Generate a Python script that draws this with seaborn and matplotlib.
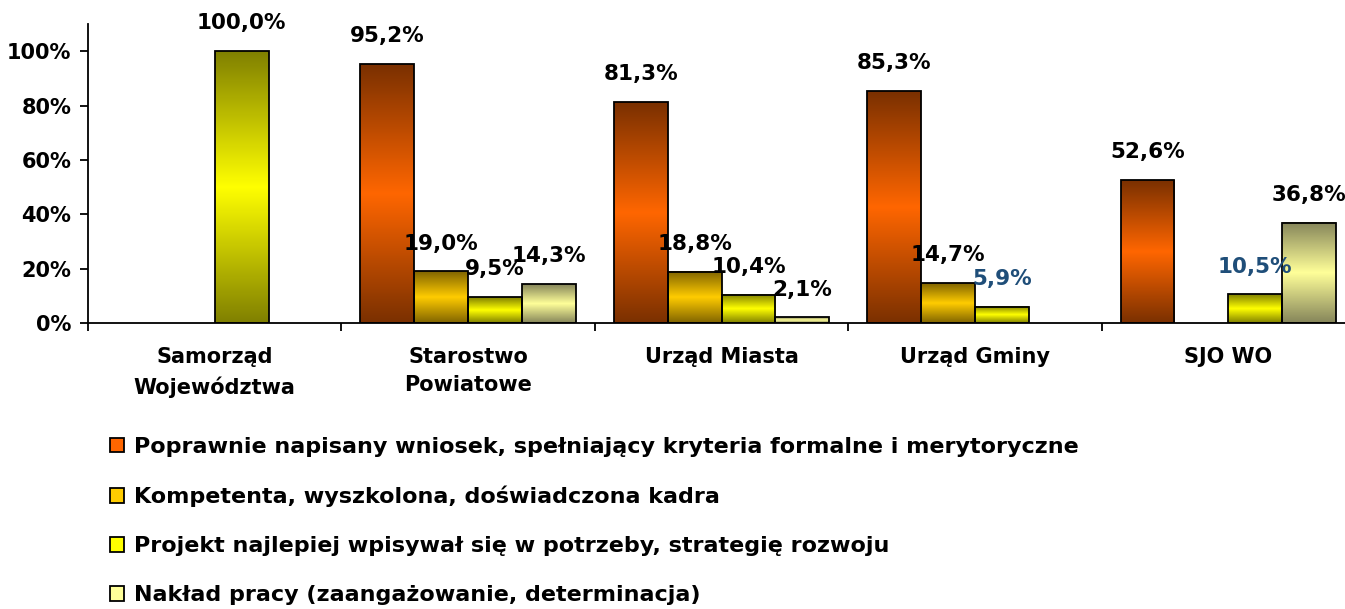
import numpy as np
import pandas as pd
import matplotlib
matplotlib.use("Agg")
import matplotlib.pyplot as plt
import seaborn as sns
from matplotlib.colors import LinearSegmentedColormap, to_rgb
from matplotlib.patches import Patch

# --- data ---
categories = ["Samorząd\nWojewództwa", "Starostwo\nPowiatowe", "Urząd Miasta", "Urząd Gminy", "SJO WO"]
series = [
    "Poprawnie napisany wniosek, spełniający kryteria formalne i merytoryczne",
    "Kompetenta, wyszkolona, doświadczona kadra",
    "Projekt najlepiej wpisywał się w potrzeby, strategię rozwoju",
    "Nakład pracy (zaangażowanie, determinacja)",
]
wniosek = [0.0, 95.2, 81.3, 85.3, 52.6]
kadra = [0.0, 19.0, 18.8, 14.7, 0.0]
projekt = [100.0, 9.5, 10.4, 5.9, 10.5]
naklad = [0.0, 14.3, 2.1, 0.0, 36.8]
yticks = [0, 20, 40, 60, 80, 100]

# (category index, series index) of the labels drawn in blue
blue_labels = {(3, 2), (4, 2)}

bright = ["#FF6600", "#FFCC00", "#FFFF00", "#FFFF99"]
dark = ["#7A3000", "#806400", "#808000", "#85855A"]

df = pd.DataFrame({
    "kategoria": np.repeat(categories, 4),
    "seria": series * len(categories),
    "wartosc": np.array([wniosek, kadra, projekt, naklad]).T.ravel(),
})

sns.set_theme(style="white")
plt.rcParams["font.family"] = ["DejaVu Sans"]
plt.rcParams["font.weight"] = "bold"
plt.rcParams["text.color"] = "black"
plt.rcParams["xtick.color"] = "black"
plt.rcParams["ytick.color"] = "black"

fig = plt.figure(figsize=(13.45, 6.09), dpi=100)
ax = fig.add_axes([88 / 1345, 286 / 609, 1267 / 1345, 299 / 609])

sns.barplot(data=df, x="kategoria", y="wartosc", hue="seria", hue_order=series,
            order=categories, palette=bright, width=0.85, edgecolor="black",
            linewidth=1.3, legend=False, ax=ax)

# vertical gradient (dark - bright - dark) inside each bar
grad = np.linspace(0, 1, 256).reshape(-1, 1)
for s, cont in enumerate(ax.containers):
    cmap = LinearSegmentedColormap.from_list(
        f"g{s}", [to_rgb(dark[s]), to_rgb(bright[s]), to_rgb(dark[s])])
    for c, bar in enumerate(cont):
        h = bar.get_height()
        if h <= 0:
            bar.set_linewidth(0)
            continue
        x, w = bar.get_x(), bar.get_width()
        ax.imshow(grad, cmap=cmap, extent=[x, x + w, 0, h], origin="lower",
                  aspect="auto", zorder=2)
        bar.set_facecolor("none")
        bar.set_zorder(3)
        color = "#1F4E79" if (c, s) in blue_labels else "black"
        ax.annotate(f"{h:.1f}%".replace(".", ","), (x + w / 2, h),
                    xytext=(0, 20), textcoords="offset points",
                    ha="center", va="center", fontsize=15.5,
                    fontweight="bold", color=color, zorder=4)

ax.set_xlim(-0.5, 4.5)
ax.set_ylim(0, 110)
ax.set_yticks(yticks)
ax.set_yticklabels([f"{v}%" for v in yticks])
ax.set_xticks(np.arange(-0.5, 5, 1), minor=True)
ax.set_xlabel("")
ax.set_ylabel("")

for side in ["top", "right"]:
    ax.spines[side].set_visible(False)
for side in ["left", "bottom"]:
    ax.spines[side].set_color("black")
    ax.spines[side].set_linewidth(1.3)

ax.tick_params(axis="y", which="major", direction="out", length=6, width=1.3,
               color="black", labelcolor="black", labelsize=15, pad=6, left=True)
ax.tick_params(axis="x", which="major", length=0, labelsize=15, pad=17,
               labelcolor="black")
ax.tick_params(axis="x", which="minor", direction="out", length=6, width=1.3,
               color="black", bottom=True)
for lab in ax.get_xticklabels():
    lab.set_fontweight("bold")
    lab.set_linespacing(1.55)
    lab.set_verticalalignment("top")
for lab in ax.get_yticklabels():
    lab.set_fontweight("bold")

handles = [Patch(facecolor=bright[i], edgecolor="black", linewidth=1.3) for i in range(4)]
fig.legend(handles, series, loc="upper left", bbox_to_anchor=(110 / 1345, 1 - 437 / 609),
           frameon=False, borderpad=0, borderaxespad=0, handlelength=0.62,
           handleheight=0.62, handletextpad=0.45, labelspacing=1.3,
           prop={"size": 16, "weight": "bold"}, labelcolor="black")

fig.savefig("out.png", dpi=100, facecolor="white")
